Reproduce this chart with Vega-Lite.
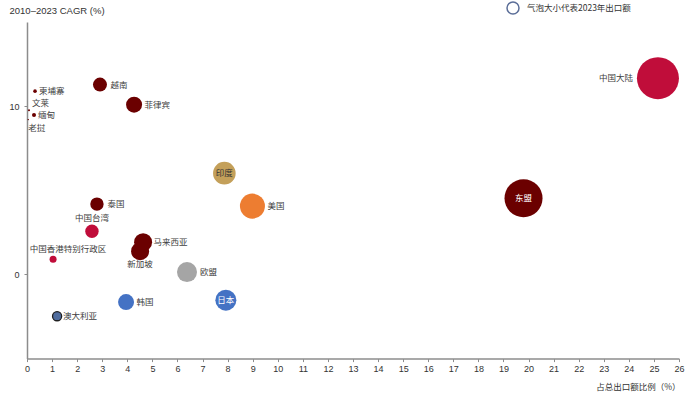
{
  "$schema": "https://vega.github.io/schema/vega-lite/v6.json",
  "width": 652,
  "height": 336.6,
  "autosize": {"type": "none"},
  "padding": {"left": 27, "top": 22, "right": 21, "bottom": 39.4},
  "background": "white",
  "config": {
    "view": {"stroke": null},
    "font": "Noto Sans CJK SC",
    "axis": {
      "grid": false,
      "domainColor": "#8c8c8c",
      "domainWidth": 1.5,
      "tickColor": "#8c8c8c",
      "tickSize": 3,
      "labelFont": "Liberation Sans",
      "labelFontSize": 9,
      "labelColor": "#333333",
      "titleColor": "#333333",
      "titleFontWeight": "normal"
    },
    "text": {"font": "Noto Sans CJK SC", "fontSize": 8.5, "color": "#404040", "baseline": "middle"}
  },
  "data": {
    "values": [
      {"name": "中国大陆", "share": 25.16, "cagr": 11.66, "export": 3380, "group": "中国"},
      {"name": "东盟", "share": 19.8, "cagr": 4.53, "export": 2770, "group": "东盟"},
      {"name": "美国", "share": 8.99, "cagr": 4.06, "export": 1200, "group": "美国"},
      {"name": "印度", "share": 7.87, "cagr": 6.02, "export": 980, "group": "印度"},
      {"name": "日本", "share": 7.93, "cagr": -1.53, "export": 845, "group": "日韩"},
      {"name": "欧盟", "share": 6.38, "cagr": 0.14, "export": 766, "group": "欧盟"},
      {"name": "韩国", "share": 3.95, "cagr": -1.64, "export": 490, "group": "日韩"},
      {"name": "新加坡", "share": 4.51, "cagr": 1.38, "export": 620, "group": "东盟"},
      {"name": "马来西亚", "share": 4.63, "cagr": 1.92, "export": 620, "group": "东盟"},
      {"name": "泰国", "share": 2.79, "cagr": 4.18, "export": 344, "group": "东盟"},
      {"name": "中国台湾", "share": 2.59, "cagr": 2.57, "export": 344, "group": "中国"},
      {"name": "中国香港特别行政区", "share": 1.04, "cagr": 0.91, "export": 94, "group": "中国"},
      {"name": "澳大利亚", "share": 1.2, "cagr": -2.48, "export": 160, "group": "澳大利亚"},
      {"name": "越南", "share": 2.91, "cagr": 11.28, "export": 376, "group": "东盟"},
      {"name": "菲律宾", "share": 4.27, "cagr": 10.09, "export": 490, "group": "东盟"},
      {"name": "柬埔寨", "share": 0.32, "cagr": 10.89, "export": 25, "group": "东盟"},
      {"name": "文莱", "share": 0.08, "cagr": 9.76, "export": 8, "group": "东盟"},
      {"name": "缅甸", "share": 0.28, "cagr": 9.48, "export": 31, "group": "东盟"},
      {"name": "老挝", "share": 0.05, "cagr": 9.2, "export": 4, "group": "东盟"}
    ]
  },
  "encoding": {
    "x": {
      "field": "share", "type": "quantitative",
      "scale": {"domain": [0, 26], "nice": false, "zero": false},
      "axis": {
        "values": [0,1,2,3,4,5,6,7,8,9,10,11,12,13,14,15,16,17,18,19,20,21,22,23,24,25,26],
        "labelPadding": 3,
        "labelFlush": false,
        "title": "占总出口额比例（%）",
        "titleFont": "Noto Sans CJK SC",
        "titleFontSize": 8.5,
        "titleAnchor": "end",
        "titleAlign": "right",
        "titleBaseline": "middle",
        "titleX": 653,
        "titleY": 28
      }
    },
    "y": {
      "field": "cagr", "type": "quantitative",
      "scale": {"domain": [-5, 15], "nice": false, "zero": false},
      "axis": {
        "values": [0, 10],
        "labelPadding": 5,
        "title": "2010–2023 CAGR (%)",
        "titleFont": "Liberation Sans",
        "titleFontSize": 9.5,
        "titleAngle": 0,
        "titleAlign": "left",
        "titleBaseline": "middle",
        "titleX": -18,
        "titleY": -12
      }
    }
  },
  "layer": [
    {
      "mark": {"type": "circle", "opacity": 1},
      "encoding": {
        "size": {"field": "export", "type": "quantitative", "scale": {"domain": [0, 3380], "range": [0, 1764], "zero": true}, "legend": null},
        "color": {
          "field": "group", "type": "nominal",
          "scale": {"domain": ["中国","东盟","美国","印度","日韩","欧盟","澳大利亚"], "range": ["#C00D3A","#6B0000","#ED7D31","#C4A05A","#4472C4","#A5A5A5","#4F6C9E"]},
          "legend": null
        },
        "stroke": {"condition": {"test": "datum.name === '澳大利亚'", "value": "#1f1f1f"}, "value": "white"},
        "strokeWidth": {"condition": {"test": "datum.name === '澳大利亚'", "value": 1.3}, "value": 0}
      }
    },
    {
      "transform": [{"filter": "datum.name === '柬埔寨'"}],
      "mark": {"type": "text", "align": "left", "dx": 4},
      "encoding": {"text": {"field": "name"}}
    },
    {
      "transform": [{"filter": "datum.name === '缅甸'"}],
      "mark": {"type": "text", "align": "left", "dx": 4, "dy": 0.5},
      "encoding": {"text": {"field": "name"}}
    },
    {
      "transform": [{"filter": "datum.name === '文莱'"}],
      "mark": {"type": "text", "align": "left", "dx": 3, "dy": -7},
      "encoding": {"text": {"field": "name"}}
    },
    {
      "transform": [{"filter": "datum.name === '老挝'"}],
      "mark": {"type": "text", "align": "left", "dx": 0, "dy": 8.5},
      "encoding": {"text": {"field": "name"}}
    },
    {
      "transform": [{"filter": "indexof(['越南','泰国','马来西亚','韩国','菲律宾'], datum.name) >= 0"}],
      "mark": {"type": "text", "align": "left", "dx": 10.5},
      "encoding": {"text": {"field": "name"}}
    },
    {
      "transform": [{"filter": "datum.name === '澳大利亚'"}],
      "mark": {"type": "text", "align": "left", "dx": 6},
      "encoding": {"text": {"field": "name"}}
    },
    {
      "transform": [{"filter": "datum.name === '欧盟'"}],
      "mark": {"type": "text", "align": "left", "dx": 13},
      "encoding": {"text": {"field": "name"}}
    },
    {
      "transform": [{"filter": "datum.name === '美国'"}],
      "mark": {"type": "text", "align": "left", "dx": 15},
      "encoding": {"text": {"field": "name"}}
    },
    {
      "transform": [{"filter": "datum.name === '中国大陆'"}],
      "mark": {"type": "text", "align": "right", "dx": -25},
      "encoding": {"text": {"field": "name"}}
    },
    {
      "transform": [{"filter": "indexof(['东盟','日本'], datum.name) >= 0"}],
      "mark": {"type": "text", "align": "center", "color": "white"},
      "encoding": {"text": {"field": "name"}}
    },
    {
      "transform": [{"filter": "datum.name === '印度'"}],
      "mark": {"type": "text", "align": "center", "color": "#333333"},
      "encoding": {"text": {"field": "name"}}
    },
    {
      "transform": [{"filter": "datum.name === '中国台湾'"}],
      "mark": {"type": "text", "align": "center", "dy": -13},
      "encoding": {"text": {"field": "name"}}
    },
    {
      "transform": [{"filter": "datum.name === '中国香港特别行政区'"}],
      "mark": {"type": "text", "align": "center", "dx": 15, "dy": -10},
      "encoding": {"text": {"field": "name"}}
    },
    {
      "transform": [{"filter": "datum.name === '新加坡'"}],
      "mark": {"type": "text", "align": "center", "dy": 13},
      "encoding": {"text": {"field": "name"}}
    },
    {
      "data": {"values": [{"k": "气泡大小代表2023年出口额"}]},
      "mark": {"type": "point", "filled": false, "opacity": 1},
      "encoding": {
        "x": {"value": 0},
        "y": {"value": 0},
        "size": {"value": 0},
        "stroke": {
          "field": "k", "type": "nominal",
          "scale": {"range": ["#5B6E98"]},
          "legend": {
            "orient": "none",
            "legendX": 479,
            "legendY": -21,
            "title": null,
            "symbolType": "circle",
            "symbolSize": 144,
            "symbolStrokeWidth": 1.5,
            "symbolFillColor": "white",
            "labelFont": "Noto Sans CJK SC",
            "labelFontSize": 8.5,
            "labelColor": "#333333",
            "labelOffset": 7
          }
        }
      }
    }
  ]
}
